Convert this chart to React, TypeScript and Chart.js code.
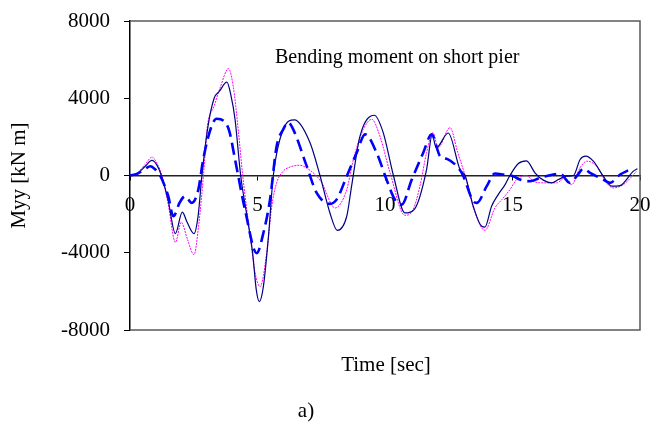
import { useEffect, useRef } from "react";
import { Chart, registerables } from "chart.js";

Chart.register(...registerables);

const SERIF = "'Liberation Serif', 'Times New Roman', serif";

// Time history of the bending moment, three analysis cases
const timeNavy = [0, 0.3, 0.6, 0.86, 1.05, 1.23, 1.49, 1.78, 2.05, 2.25, 2.51, 2.67, 2.82, 3.06, 3.3, 3.5, 3.8, 3.95, 4.12, 4.34, 4.6, 4.81, 4.95, 5.07, 5.23, 5.43, 5.62, 6.01, 6.45, 7.06, 7.45, 7.84, 8.13, 8.5, 8.69, 9.02, 9.58, 9.93, 10.33, 10.78, 11.15, 11.63, 11.85, 12.01, 12.48, 12.94, 13.14, 13.46, 13.79, 13.92, 14.18, 14.44, 14.71, 14.9, 15.23, 15.55, 15.88, 16.21, 16.54, 16.8, 17.12, 17.39, 17.65, 17.87, 18.17, 18.56, 18.89, 19.22, 19.74, 19.9];
const momentNavy = [0, 120, 480, 780, 550, 0, -1250, -3010, -1900, -2450, -3010, -2100, 0, 2560, 4000, 4350, 4830, 4200, 2900, 0, -2200, -4020, -5900, -6530, -5750, -3150, 0, 2390, 2880, 1700, 0, -1940, -2840, -2110, -550, 2040, 3120, 2220, 0, -1940, -1750, 310, 2100, 1440, 2200, 310, 0, -1590, -2630, -2670, -1590, -990, -470, 0, 620, 760, 140, -240, -380, -210, -35, 0, 830, 1000, 740, -35, -550, -520, 225, 350];

const timeMagenta = [0, 0.3, 0.6, 0.86, 1.05, 1.25, 1.5, 1.78, 2.01, 2.25, 2.51, 2.7, 2.88, 3.03, 3.3, 3.55, 3.86, 4.05, 4.25, 4.42, 4.7, 4.9, 5.1, 5.36, 5.56, 5.75, 6.01, 6.3, 6.67, 6.8, 7.32, 7.52, 8.04, 8.5, 8.76, 9.15, 9.48, 9.8, 10.2, 10.78, 11.1, 11.37, 11.63, 11.88, 12.08, 12.55, 12.85, 13.14, 13.5, 13.92, 14.31, 14.58, 14.9, 15.16, 15.55, 15.82, 16.13, 16.73, 17.06, 17.32, 17.65, 17.91, 18.3, 18.69, 18.95, 19.35, 19.87];
const momentMagenta = [0, 150, 580, 950, 650, 0, -1500, -3460, -2420, -3300, -4100, -2500, 0, 2500, 3600, 4600, 5540, 4600, 2300, 0, -3000, -5000, -5750, -4020, -1590, -380, 225, 450, 530, 485, -35, -380, -1680, -730, 830, 2390, 2910, 2040, 140, -2060, -1770, -550, 1180, 2220, 1440, 2480, 1200, 0, -1800, -2840, -1680, -1250, -730, -210, 0, -300, -380, -380, -120, -470, 400, 740, 485, -380, -640, -470, 225];

const timeBlue = [0, 0.3, 0.6, 0.8, 1.0, 1.18, 1.5, 1.7, 1.95, 2.16, 2.42, 2.68, 2.87, 3.2, 3.4, 3.79, 3.91, 4.12, 4.51, 4.97, 5.23, 5.49, 5.75, 6.01, 6.2, 6.4, 6.93, 7.32, 7.84, 8.1, 8.5, 8.89, 9.22, 9.67, 10.06, 10.39, 10.65, 11.05, 11.5, 11.83, 12.16, 12.45, 12.9, 13.06, 13.46, 13.6, 13.99, 14.31, 14.64, 15.03, 15.29, 15.69, 16.08, 16.6, 16.86, 17.25, 17.52, 17.78, 18.04, 18.56, 18.82, 19.22, 19.61];
const momentBlue = [0, 100, 350, 480, 300, 0, -1070, -2110, -1400, -1070, -1420, -730, 830, 2560, 2940, 2650, 2220, 830, -1770, -4020, -2980, -1250, 1520, 2390, 2750, 2390, 485, -900, -1470, -1250, -35, 1180, 2130, 1180, -210, -1250, -1510, -210, 1180, 2130, 1000, 850, 350, 0, -1330, -1420, -550, 100, 50, -35, -210, -300, -120, 50, 100, -380, -35, 350, 140, -210, -380, 50, 310];

const xTickValues = [0, 5, 10, 15, 20];
const yTickValues = [-8000, -4000, 0, 4000, 8000];

const chartTitle = "Bending moment on short pier";
const xTitle = "Time [sec]";
const yTitle = "Myy [kN m]";
const panelLabel = "a)";

const toPoints = (t: number[], v: number[]) => t.map((x, i) => ({ x, y: v[i] }));

// Keep the plot area exactly where the layout padding puts it
const noScalePadding = (scale: any) => {
  scale.paddingTop = 0;
  scale.paddingBottom = 0;
  scale.paddingLeft = 0;
  scale.paddingRight = 0;
};

// Box around the plot area plus the free-standing captions
const framePlugin = {
  id: "frameAndCaptions",
  afterDraw(chart: any) {
    const { ctx, chartArea } = chart;
    const { left, top, right, bottom } = chartArea;
    ctx.save();
    ctx.strokeStyle = "#5a5a5a";
    ctx.lineWidth = 1.5;
    ctx.beginPath();
    ctx.moveTo(left, top);
    ctx.lineTo(right, top);
    ctx.lineTo(right, bottom);
    ctx.lineTo(left, bottom);
    ctx.stroke();

    ctx.fillStyle = "#000";
    ctx.textBaseline = "middle";
    ctx.textAlign = "left";
    ctx.font = `20px ${SERIF}`;
    ctx.fillText(chartTitle, 275, 58);
    ctx.textAlign = "center";
    ctx.font = `21px ${SERIF}`;
    ctx.fillText(xTitle, 386, 365);
    ctx.fillText(panelLabel, 306, 411);
    ctx.restore();
  },
};

export default function App() {
  const canvasRef = useRef<HTMLCanvasElement | null>(null);

  useEffect(() => {
    const canvas = canvasRef.current;
    if (!canvas) return;
    const chart = new Chart(canvas, {
      type: "line",
      data: {
        datasets: [
          {
            label: "case 1",
            data: toPoints(timeNavy, momentNavy),
            borderColor: "#000080",
            borderWidth: 1.2,
            pointRadius: 0,
            cubicInterpolationMode: "monotone",
            fill: false,
            order: 1,
          },
          {
            label: "case 2",
            data: toPoints(timeMagenta, momentMagenta),
            borderColor: "#ff00ff",
            borderWidth: 1,
            borderDash: [2, 1],
            pointRadius: 0,
            cubicInterpolationMode: "monotone",
            fill: false,
            order: 2,
          },
          {
            label: "case 3",
            data: toPoints(timeBlue, momentBlue),
            borderColor: "#0000ff",
            borderWidth: 2.6,
            borderDash: [12, 6],
            pointRadius: 0,
            cubicInterpolationMode: "monotone",
            fill: false,
            order: 0,
          },
        ],
      },
      options: {
        responsive: false,
        animation: false,
        events: [],
        layout: { padding: { left: 0, top: 21, right: 13, bottom: 92 } },
        plugins: {
          legend: { display: false },
          tooltip: { enabled: false },
          title: { display: false },
        },
        scales: {
          x: {
            type: "linear",
            position: { y: 0 },
            min: 0,
            max: 20,
            afterBuildTicks: (scale: any) => {
              scale.ticks = xTickValues.map((value) => ({ value }));
            },
            afterFit: noScalePadding,
            grid: { drawOnChartArea: false, drawTicks: true, tickLength: 4, color: "#000" },
            border: { display: true, color: "#222", width: 1.5 },
            ticks: {
              color: "#000",
              font: { family: SERIF, size: 21 },
              padding: 13,
              maxRotation: 0,
              autoSkip: false,
              callback: (v: any) => String(v),
            },
          },
          y: {
            type: "linear",
            position: "left",
            min: -8000,
            max: 8000,
            afterBuildTicks: (scale: any) => {
              scale.ticks = yTickValues.map((value) => ({ value }));
            },
            afterFit: (scale: any) => {
              scale.width = 130;
              noScalePadding(scale);
            },
            grid: { drawOnChartArea: false, drawTicks: true, tickLength: 6, color: "#000" },
            border: { display: true, color: "#000", width: 1.5 },
            ticks: {
              color: "#000",
              font: { family: SERIF, size: 21 },
              padding: 14,
              autoSkip: false,
              callback: (v: any) => String(v),
            },
            title: {
              display: true,
              text: yTitle,
              color: "#000",
              font: { family: SERIF, size: 21 },
              padding: { top: 7, bottom: 0 },
            },
          },
        },
      },
      plugins: [framePlugin],
    });
    return () => chart.destroy();
  }, []);

  return (
    <div style={{ position: "absolute", left: 0, top: 0, width: 653, height: 422, background: "#fff" }}>
      <canvas ref={canvasRef} width={653} height={422} style={{ display: "block" }} />
    </div>
  );
}
